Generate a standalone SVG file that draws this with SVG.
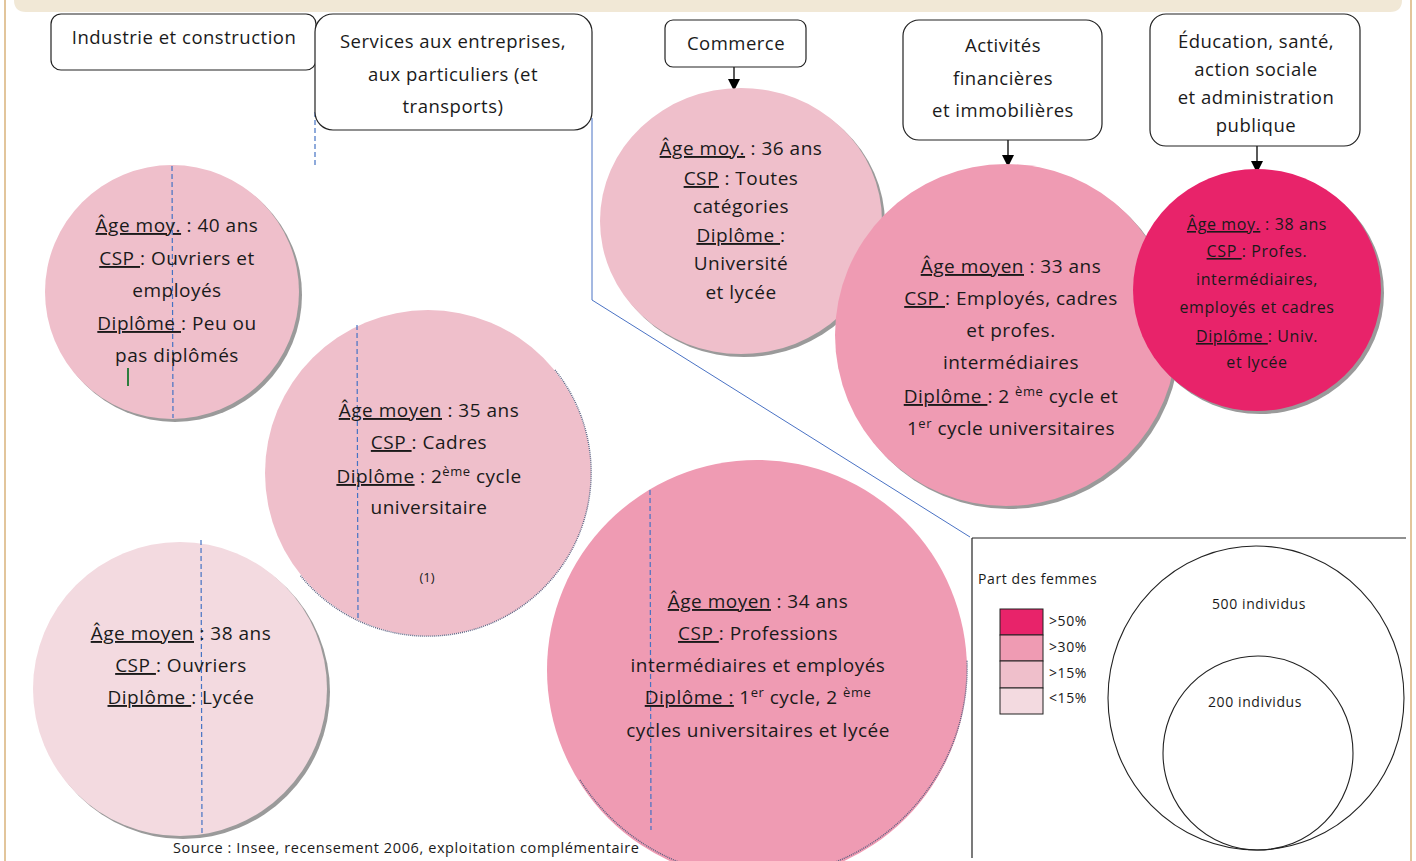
<svg xmlns="http://www.w3.org/2000/svg" width="1416" height="861" viewBox="0 0 1416 861">
<defs>
<marker id="arr" viewBox="0 0 10 10" refX="10" refY="5" markerWidth="12" markerHeight="12" markerUnits="userSpaceOnUse" orient="auto">
<path d="M0,0 L10,5 L0,10 Z" fill="#000"/>
</marker>
</defs>
<style>
text{font-family:"Open Sans","Liberation Sans",sans-serif;fill:#1a1a1a;}
.box{fill:#fff;stroke:#222;stroke-width:1.2;}
.bt{font-size:18.5px;letter-spacing:0.5px;text-anchor:middle;}
.ct{font-size:19px;letter-spacing:0.5px;text-anchor:middle;}
.cs{font-size:16px;letter-spacing:0.6px;text-anchor:middle;}
.u{text-decoration:underline;}
.sh{fill:#9a9a9a;}
.c50{fill:#e8236a;}
.c30{fill:#ef9bb3;}
.c15{fill:#efbfcb;}
.c0{fill:#f3dae0;}
.dash{stroke:#4472c4;stroke-width:1.2;stroke-dasharray:5 3;fill:none;}
.conn{stroke:#000;stroke-width:1.3;fill:none;}
.rim{fill:none;stroke:#5a6080;stroke-width:1.4;stroke-dasharray:1 1;}
.lg{font-size:14px;letter-spacing:0.6px;}
</style>
<rect x="0" y="0" width="1416" height="861" fill="#fff"/>
<path d="M14,0 H1402 V0 Q1402,12 1390,12 H26 Q14,12 14,0 Z" fill="#f1e8d6"/>
<line x1="5" y1="0" x2="5" y2="861" stroke="#d8b27a" stroke-width="1.5"/>
<line x1="1411" y1="0" x2="1411" y2="861" stroke="#d8b27a" stroke-width="1.5"/>

<g id="connectors">
<line class="conn" x1="734" y1="67" x2="734" y2="91" marker-end="url(#arr)"/>
<line class="conn" x1="1008" y1="140" x2="1008" y2="167" marker-end="url(#arr)"/>
<line class="conn" x1="1257" y1="146" x2="1257" y2="173" marker-end="url(#arr)"/>
<polyline points="592,118 592,300 970,537" fill="none" stroke="#4a72c4" stroke-width="1"/>
<line class="dash" x1="315" y1="112" x2="315" y2="165"/>
</g>

<g id="box-industrie">
<rect class="box" x="51" y="14" width="265" height="56" rx="10"/>
<text class="bt" x="184" y="44">Industrie et construction</text>
</g>
<g id="box-services">
<rect class="box" x="315" y="14" width="277" height="116" rx="18"/>
<text class="bt" x="453" y="48">Services aux entreprises,</text>
<text class="bt" x="453" y="81">aux particuliers (et</text>
<text class="bt" x="453" y="113">transports)</text>
</g>
<g id="box-commerce">
<rect class="box" x="665" y="20" width="141" height="47" rx="8"/>
<text class="bt" x="736" y="50">Commerce</text>
</g>
<g id="box-finance">
<rect class="box" x="903" y="20" width="199" height="120" rx="16"/>
<text class="bt" x="1003" y="52">Activités</text>
<text class="bt" x="1003" y="85">financières</text>
<text class="bt" x="1003" y="117">et immobilières</text>
</g>
<g id="box-education">
<rect class="box" x="1150" y="14" width="210" height="132" rx="16"/>
<text class="bt" x="1256" y="48">Éducation, santé,</text>
<text class="bt" x="1256" y="76">action sociale</text>
<text class="bt" x="1256" y="104">et administration</text>
<text class="bt" x="1256" y="132">publique</text>
</g>

<g id="circle-industrie">
<circle class="sh" cx="175" cy="295" r="127"/>
<circle class="c15" cx="172" cy="292" r="127"/>
<line class="dash" x1="172" y1="166" x2="173" y2="418"/>
<line x1="128" y1="368" x2="128" y2="386" stroke="#2e7d3e" stroke-width="2"/>
<text class="ct" x="177" y="232"><tspan class="u">Âge moy.</tspan> : 40 ans</text>
<text class="ct" x="177" y="265"><tspan class="u">CSP </tspan>: Ouvriers et</text>
<text class="ct" x="177" y="297">employés</text>
<text class="ct" x="177" y="330"><tspan class="u">Diplôme </tspan>: Peu ou</text>
<text class="ct" x="177" y="362">pas diplômés</text>
</g>

<g id="circle-services">
<circle class="c15" cx="428" cy="473" r="163"/>
<path class="rim" d="M555,370 A163,163 0 1,1 300,575"/>
<line class="dash" x1="357" y1="325" x2="358" y2="620"/>
<text class="ct" x="429" y="417"><tspan class="u">Âge moyen</tspan> : 35 ans</text>
<text class="ct" x="429" y="449"><tspan class="u">CSP </tspan>: Cadres</text>
<text class="ct" x="429" y="483"><tspan class="u">Diplôme</tspan> : 2<tspan font-size="13" dy="-7">ème</tspan><tspan dy="7"> cycle</tspan></text>
<text class="ct" x="429" y="514">universitaire</text>
<text x="427" y="582" font-family="Liberation Serif,serif" font-size="13" text-anchor="middle">(1)</text>
</g>

<g id="circle-commerce">
<ellipse class="sh" cx="744" cy="224" rx="141" ry="133"/>
<ellipse class="c15" cx="741" cy="221" rx="141" ry="133"/>
<text class="ct" x="741" y="155"><tspan class="u">Âge moy.</tspan> : 36 ans</text>
<text class="ct" x="741" y="185"><tspan class="u">CSP</tspan> : Toutes</text>
<text class="ct" x="741" y="213">catégories</text>
<text class="ct" x="741" y="242"><tspan class="u">Diplôme </tspan>:</text>
<text class="ct" x="741" y="270">Université</text>
<text class="ct" x="741" y="299">et lycée</text>
</g>

<g id="circle-finance">
<circle class="sh" cx="1009" cy="338" r="171"/>
<circle class="c30" cx="1006" cy="335" r="171"/>
</g>

<g id="circle-education">
<ellipse class="sh" cx="1260" cy="293" rx="124" ry="121"/>
<ellipse class="c50" cx="1257" cy="290" rx="124" ry="121"/>
<text class="cs" x="1257" y="230"><tspan class="u">Âge moy.</tspan> : 38 ans</text>
<text class="cs" x="1257" y="257"><tspan class="u">CSP </tspan>: Profes.</text>
<text class="cs" x="1257" y="285">intermédiaires,</text>
<text class="cs" x="1257" y="313">employés et cadres</text>
<text class="cs" x="1257" y="342"><tspan class="u">Diplôme </tspan>: Univ.</text>
<text class="cs" x="1257" y="368">et lycée</text>
</g>

<g id="circle-finance-text">
<text class="ct" x="1011" y="273"><tspan class="u">Âge moyen</tspan> : 33 ans</text>
<text class="ct" x="1011" y="305"><tspan class="u">CSP </tspan>: Employés, cadres</text>
<text class="ct" x="1011" y="337">et profes.</text>
<text class="ct" x="1011" y="369">intermédiaires</text>
<text class="ct" x="1011" y="403"><tspan class="u">Diplôme </tspan>: 2 <tspan font-size="13" dy="-7">ème</tspan><tspan dy="7"> cycle et</tspan></text>
<text class="ct" x="1011" y="435">1<tspan font-size="13" dy="-7">er</tspan><tspan dy="7"> cycle universitaires</tspan></text>
</g>

<g id="circle-ouvriers">
<circle class="sh" cx="183" cy="692" r="147"/>
<circle class="c0" cx="180" cy="689" r="147"/>
<line class="dash" x1="201" y1="540" x2="202" y2="835"/>
<text class="ct" x="181" y="640"><tspan class="u">Âge moyen</tspan> : 38 ans</text>
<text class="ct" x="181" y="672"><tspan class="u">CSP </tspan>: Ouvriers</text>
<text class="ct" x="181" y="704"><tspan class="u">Diplôme </tspan>: Lycée</text>
</g>

<g id="circle-professions">
<circle class="c30" cx="757" cy="670" r="210"/>
<path class="rim" d="M580,780 A210,210 0 0,0 967,660"/>
<line class="dash" x1="650" y1="490" x2="651" y2="830"/>
<text class="ct" x="758" y="608"><tspan class="u">Âge moyen</tspan> : 34 ans</text>
<text class="ct" x="758" y="640"><tspan class="u">CSP </tspan>: Professions</text>
<text class="ct" x="758" y="672">intermédiaires et employés</text>
<text class="ct" x="758" y="704"><tspan class="u">Diplôme :</tspan> 1<tspan font-size="13" dy="-7">er</tspan><tspan dy="7"> cycle, 2 </tspan><tspan font-size="13" dy="-7">ème</tspan></text>
<text class="ct" x="758" y="737">cycles universitaires et lycée</text>
</g>

<g id="legend">
<line x1="972" y1="538" x2="1406" y2="538" stroke="#222" stroke-width="1.2"/>
<line x1="972" y1="538" x2="972" y2="858" stroke="#222" stroke-width="1.2"/>
<text class="lg" x="978" y="584">Part des femmes</text>
<rect class="c50" x="1000" y="609" width="43" height="26" stroke="#222"/>
<rect class="c30" x="1000" y="635" width="43" height="26" stroke="#222"/>
<rect class="c15" x="1000" y="661" width="43" height="27" stroke="#222"/>
<rect class="c0" x="1000" y="688" width="43" height="26" stroke="#222"/>
<text class="lg" x="1049" y="626">&gt;50%</text>
<text class="lg" x="1049" y="652">&gt;30%</text>
<text class="lg" x="1049" y="678">&gt;15%</text>
<text class="lg" x="1049" y="703">&lt;15%</text>
<ellipse cx="1256" cy="698" rx="148" ry="152" fill="none" stroke="#222" stroke-width="1.1"/>
<ellipse cx="1258" cy="753" rx="95" ry="97" fill="none" stroke="#222" stroke-width="1.1"/>
<text class="lg" x="1259" y="609" text-anchor="middle">500 individus</text>
<text class="lg" x="1255" y="707" text-anchor="middle">200 individus</text>
</g>

<text x="173" y="853" font-size="14.5" letter-spacing="0.6">Source : Insee, recensement 2006, exploitation complémentaire</text>
</svg>
